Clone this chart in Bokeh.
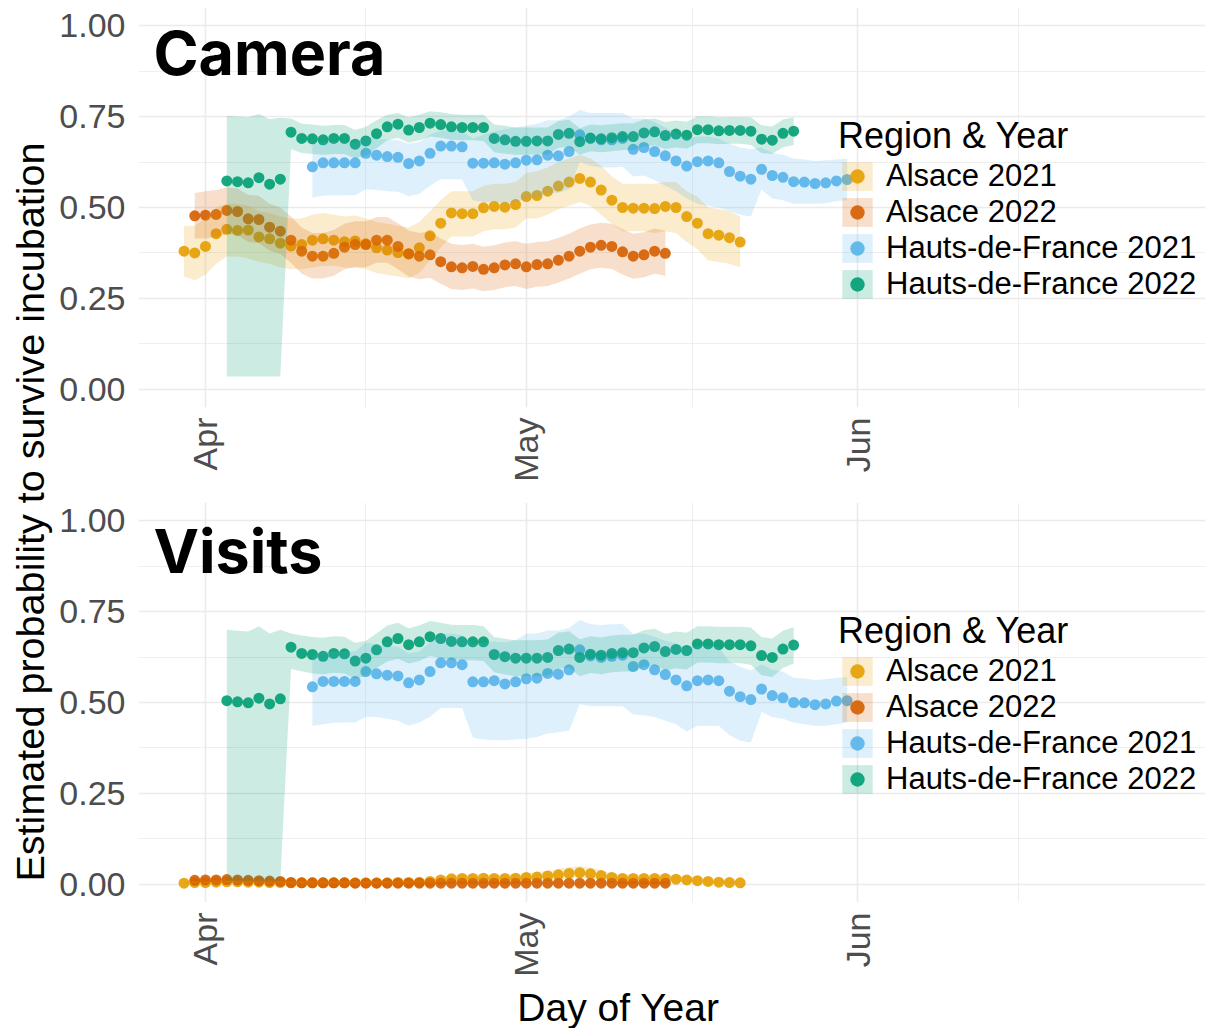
import math
import numpy as np
from bokeh.plotting import figure
from bokeh.models import Range1d, FixedTicker, Label, Legend, LegendItem, PrintfTickFormatter
from bokeh.layouts import row, column
from bokeh.embed import file_html
from bokeh.resources import INLINE

# ---------------- data ----------------
SERIES = ["Alsace 2021", "Alsace 2022", "Hauts-de-France 2021", "Hauts-de-France 2022"]
COLORS = ["#E69F00", "#D55E00", "#56B4E9", "#009E73"]
START_DOY = [89, 90, 101, 93]          # day of year of the first daily estimate (Apr 1 = 91)

MONTH_TICKS = [91, 121, 152]
MONTH_LABELS = ["Apr", "May", "Jun"]
MONTH_MINOR = [106, 136.5, 167]
Y_TICKS = [0, 0.25, 0.5, 0.75, 1.0]
Y_MINOR = [0.125, 0.375, 0.625, 0.875]

# Camera panel
CAM_A21 = [0.380, 0.375, 0.393, 0.428, 0.440, 0.437, 0.438, 0.419, 0.414, 0.402,
           0.394, 0.398, 0.410, 0.414, 0.410, 0.406, 0.408, 0.400, 0.389, 0.383,
           0.376, 0.372, 0.389, 0.422, 0.457, 0.485, 0.483, 0.483, 0.499, 0.503,
           0.501, 0.508, 0.530, 0.533, 0.545, 0.559, 0.570, 0.580, 0.570, 0.548,
           0.520, 0.500, 0.498, 0.498, 0.497, 0.503, 0.500, 0.475, 0.457, 0.428,
           0.424, 0.417, 0.405]
CAM_A21_LO = [0.310, 0.300, 0.315, 0.345, 0.365, 0.365, 0.360, 0.350, 0.345, 0.335,
              0.330, 0.330, 0.335, 0.340, 0.340, 0.335, 0.335, 0.330, 0.320, 0.315,
              0.310, 0.305, 0.320, 0.355, 0.390, 0.420, 0.420, 0.420, 0.435, 0.440,
              0.440, 0.445, 0.470, 0.470, 0.480, 0.495, 0.505, 0.515, 0.505, 0.480,
              0.455, 0.435, 0.435, 0.435, 0.430, 0.435, 0.430, 0.405, 0.385, 0.355,
              0.350, 0.345, 0.335]
CAM_A21_HI = [0.450, 0.450, 0.470, 0.500, 0.510, 0.510, 0.505, 0.490, 0.485, 0.475,
              0.470, 0.470, 0.480, 0.485, 0.480, 0.475, 0.478, 0.470, 0.460, 0.455,
              0.450, 0.445, 0.460, 0.490, 0.520, 0.545, 0.545, 0.545, 0.560, 0.565,
              0.565, 0.570, 0.595, 0.600, 0.610, 0.625, 0.635, 0.645, 0.635, 0.615,
              0.585, 0.565, 0.565, 0.565, 0.565, 0.570, 0.570, 0.545, 0.530, 0.500,
              0.495, 0.490, 0.475]

CAM_A22 = [0.477, 0.479, 0.481, 0.492, 0.489, 0.469, 0.467, 0.446, 0.435, 0.410,
           0.380, 0.366, 0.366, 0.374, 0.391, 0.398, 0.398, 0.410, 0.410, 0.393,
           0.373, 0.366, 0.370, 0.351, 0.337, 0.334, 0.338, 0.330, 0.334, 0.342,
           0.345, 0.337, 0.343, 0.345, 0.355, 0.366, 0.380, 0.391, 0.396, 0.393,
           0.378, 0.366, 0.370, 0.380, 0.374]
CAM_A22_LO = [0.415, 0.415, 0.418, 0.428, 0.425, 0.405, 0.402, 0.382, 0.372, 0.348,
              0.318, 0.305, 0.305, 0.312, 0.330, 0.336, 0.336, 0.348, 0.348, 0.330,
              0.310, 0.303, 0.307, 0.290, 0.276, 0.273, 0.277, 0.270, 0.273, 0.281,
              0.284, 0.276, 0.282, 0.284, 0.294, 0.305, 0.318, 0.330, 0.334, 0.331,
              0.316, 0.304, 0.308, 0.318, 0.312]
CAM_A22_HI = [0.540, 0.545, 0.548, 0.555, 0.552, 0.535, 0.532, 0.510, 0.500, 0.475,
              0.445, 0.430, 0.430, 0.438, 0.455, 0.462, 0.462, 0.474, 0.474, 0.457,
              0.437, 0.430, 0.434, 0.415, 0.400, 0.397, 0.400, 0.392, 0.396, 0.404,
              0.407, 0.400, 0.405, 0.407, 0.417, 0.428, 0.442, 0.453, 0.458, 0.455,
              0.440, 0.428, 0.432, 0.442, 0.437]

CAM_H21 = [0.612, 0.623, 0.623, 0.623, 0.623, 0.649, 0.644, 0.640, 0.638, 0.621,
           0.628, 0.649, 0.669, 0.669, 0.667, 0.622, 0.622, 0.623, 0.619, 0.623,
           0.630, 0.631, 0.644, 0.642, 0.654, 0.700, 0.690, 0.686, 0.686, 0.690,
           0.660, 0.665, 0.654, 0.642, 0.628, 0.614, 0.626, 0.628, 0.623, 0.599,
           0.586, 0.578, 0.605, 0.588, 0.583, 0.571, 0.570, 0.566, 0.568, 0.573,
           0.577]
CAM_H21_LO = [0.527, 0.533, 0.533, 0.534, 0.534, 0.550, 0.548, 0.545, 0.543, 0.531,
              0.538, 0.560, 0.578, 0.578, 0.577, 0.520, 0.515, 0.515, 0.512, 0.515,
              0.525, 0.528, 0.540, 0.540, 0.550, 0.625, 0.615, 0.610, 0.610, 0.612,
              0.585, 0.588, 0.575, 0.560, 0.545, 0.525, 0.510, 0.505, 0.500, 0.490,
              0.480, 0.475, 0.550, 0.525, 0.520, 0.510, 0.510, 0.510, 0.512, 0.518,
              0.520]
CAM_H21_HI = [0.674, 0.680, 0.680, 0.680, 0.680, 0.695, 0.690, 0.687, 0.685, 0.675,
              0.680, 0.700, 0.712, 0.712, 0.710, 0.690, 0.700, 0.710, 0.715, 0.720,
              0.725, 0.730, 0.740, 0.740, 0.750, 0.768, 0.760, 0.760, 0.760, 0.760,
              0.745, 0.745, 0.735, 0.720, 0.705, 0.690, 0.695, 0.695, 0.690, 0.675,
              0.665, 0.660, 0.665, 0.650, 0.645, 0.635, 0.632, 0.628, 0.630, 0.632,
              0.635]

CAM_H22 = [0.573, 0.571, 0.568, 0.582, 0.564, 0.578, 0.707, 0.690, 0.689, 0.686,
           0.690, 0.690, 0.674, 0.683, 0.703, 0.722, 0.729, 0.713, 0.720, 0.732,
           0.728, 0.722, 0.720, 0.720, 0.720, 0.690, 0.686, 0.682, 0.682, 0.683,
           0.683, 0.701, 0.704, 0.681, 0.691, 0.689, 0.692, 0.695, 0.695, 0.705,
           0.708, 0.698, 0.702, 0.699, 0.714, 0.714, 0.711, 0.712, 0.712, 0.710,
           0.688, 0.685, 0.704, 0.710]
CAM_H22_LO = [0.035, 0.035, 0.035, 0.035, 0.035, 0.035, 0.660, 0.650, 0.647, 0.645,
              0.647, 0.647, 0.635, 0.642, 0.663, 0.685, 0.692, 0.678, 0.685, 0.695,
              0.692, 0.686, 0.685, 0.685, 0.683, 0.652, 0.648, 0.645, 0.645, 0.646,
              0.646, 0.664, 0.667, 0.645, 0.655, 0.652, 0.655, 0.658, 0.658, 0.668,
              0.671, 0.661, 0.665, 0.662, 0.677, 0.677, 0.674, 0.675, 0.675, 0.672,
              0.650, 0.647, 0.666, 0.672]
CAM_H22_HI = [0.752, 0.750, 0.748, 0.757, 0.743, 0.747, 0.745, 0.730, 0.728, 0.725,
              0.727, 0.727, 0.713, 0.722, 0.740, 0.755, 0.760, 0.748, 0.755, 0.765,
              0.762, 0.757, 0.755, 0.755, 0.755, 0.728, 0.725, 0.720, 0.720, 0.720,
              0.720, 0.738, 0.741, 0.718, 0.728, 0.726, 0.729, 0.732, 0.732, 0.742,
              0.745, 0.735, 0.739, 0.736, 0.751, 0.751, 0.748, 0.749, 0.749, 0.748,
              0.726, 0.723, 0.742, 0.748]

# Visits panel
VIS_A21 = [0.003, 0.005, 0.005, 0.006, 0.007, 0.007, 0.006, 0.006, 0.005, 0.005,
           0.004, 0.004, 0.004, 0.004, 0.004, 0.004, 0.004, 0.004, 0.004, 0.004,
           0.005, 0.005, 0.006, 0.008, 0.012, 0.015, 0.016, 0.016, 0.017, 0.016,
           0.016, 0.017, 0.019, 0.020, 0.023, 0.026, 0.030, 0.032, 0.029, 0.024,
           0.019, 0.016, 0.016, 0.016, 0.016, 0.016, 0.014, 0.012, 0.010, 0.008,
           0.006, 0.005, 0.004]
VIS_A21_LO = [0.001, 0.002, 0.002, 0.002, 0.003, 0.003, 0.002, 0.002, 0.002, 0.002,
              0.001, 0.001, 0.001, 0.001, 0.001, 0.001, 0.001, 0.001, 0.001, 0.001,
              0.002, 0.002, 0.002, 0.003, 0.005, 0.007, 0.008, 0.008, 0.008, 0.008,
              0.008, 0.008, 0.009, 0.010, 0.011, 0.013, 0.015, 0.017, 0.015, 0.012,
              0.009, 0.008, 0.008, 0.008, 0.008, 0.008, 0.007, 0.006, 0.004, 0.003,
              0.002, 0.002, 0.001]
VIS_A21_HI = [0.008, 0.010, 0.010, 0.011, 0.012, 0.012, 0.011, 0.011, 0.010, 0.010,
              0.009, 0.009, 0.009, 0.009, 0.009, 0.009, 0.009, 0.009, 0.009, 0.009,
              0.010, 0.010, 0.011, 0.015, 0.021, 0.025, 0.027, 0.027, 0.028, 0.027,
              0.027, 0.028, 0.031, 0.033, 0.037, 0.042, 0.047, 0.050, 0.046, 0.039,
              0.031, 0.027, 0.027, 0.027, 0.027, 0.027, 0.024, 0.021, 0.018, 0.015,
              0.012, 0.010, 0.008]

VIS_A22 = [0.011, 0.012, 0.012, 0.013, 0.012, 0.011, 0.010, 0.009, 0.008, 0.005,
           0.004, 0.004, 0.004, 0.004, 0.004, 0.003, 0.003, 0.003, 0.003, 0.003,
           0.003, 0.003, 0.003, 0.003, 0.003, 0.003, 0.003, 0.003, 0.003, 0.003,
           0.003, 0.003, 0.003, 0.003, 0.003, 0.003, 0.003, 0.003, 0.003, 0.003,
           0.003, 0.003, 0.003, 0.003, 0.003]
VIS_A22_LO = [0.007, 0.008, 0.008, 0.009, 0.008, 0.007, 0.006, 0.005, 0.004, 0.002,
              0.001, 0.001, 0.001, 0.001, 0.001, 0.001, 0.001, 0.001, 0.001, 0.001,
              0.001, 0.001, 0.001, 0.001, 0.001, 0.001, 0.001, 0.001, 0.001, 0.001,
              0.001, 0.001, 0.001, 0.001, 0.001, 0.001, 0.001, 0.001, 0.001, 0.001,
              0.001, 0.001, 0.001, 0.001, 0.001]
VIS_A22_HI = [0.016, 0.017, 0.017, 0.018, 0.017, 0.016, 0.015, 0.014, 0.013, 0.009,
              0.007, 0.007, 0.007, 0.007, 0.007, 0.007, 0.007, 0.007, 0.007, 0.007,
              0.007, 0.007, 0.007, 0.007, 0.007, 0.007, 0.007, 0.007, 0.007, 0.007,
              0.007, 0.007, 0.007, 0.007, 0.007, 0.007, 0.007, 0.007, 0.007, 0.007,
              0.007, 0.007, 0.007, 0.007, 0.007]

VIS_H21 = [0.543, 0.558, 0.558, 0.558, 0.558, 0.585, 0.579, 0.575, 0.573, 0.554,
           0.562, 0.585, 0.609, 0.609, 0.604, 0.557, 0.557, 0.560, 0.551, 0.557,
           0.565, 0.567, 0.580, 0.578, 0.590, 0.645, 0.628, 0.624, 0.627, 0.630,
           0.599, 0.604, 0.590, 0.577, 0.562, 0.546, 0.560, 0.562, 0.560, 0.531,
           0.516, 0.508, 0.537, 0.519, 0.513, 0.500, 0.499, 0.494, 0.496, 0.504,
           0.505]
VIS_H21_LO = [0.436, 0.440, 0.444, 0.445, 0.445, 0.461, 0.460, 0.455, 0.450, 0.436,
              0.445, 0.461, 0.485, 0.485, 0.485, 0.404, 0.398, 0.396, 0.396, 0.398,
              0.400, 0.405, 0.415, 0.418, 0.422, 0.496, 0.490, 0.490, 0.490, 0.490,
              0.467, 0.465, 0.460, 0.450, 0.440, 0.420, 0.436, 0.436, 0.436, 0.410,
              0.395, 0.390, 0.474, 0.460, 0.455, 0.445, 0.440, 0.436, 0.436, 0.440,
              0.445]
VIS_H21_HI = [0.630, 0.640, 0.640, 0.640, 0.640, 0.665, 0.660, 0.655, 0.653, 0.635,
              0.640, 0.665, 0.690, 0.690, 0.685, 0.660, 0.665, 0.668, 0.665, 0.672,
              0.689, 0.690, 0.698, 0.698, 0.705, 0.727, 0.715, 0.713, 0.715, 0.716,
              0.689, 0.690, 0.680, 0.670, 0.662, 0.652, 0.655, 0.655, 0.652, 0.612,
              0.598, 0.588, 0.605, 0.590, 0.585, 0.568, 0.566, 0.562, 0.564, 0.568,
              0.570]

VIS_H22 = [0.505, 0.502, 0.499, 0.512, 0.496, 0.510, 0.652, 0.635, 0.632, 0.627,
           0.635, 0.634, 0.614, 0.622, 0.645, 0.667, 0.676, 0.659, 0.667, 0.681,
           0.676, 0.668, 0.667, 0.667, 0.667, 0.632, 0.626, 0.622, 0.622, 0.622,
           0.624, 0.643, 0.647, 0.624, 0.633, 0.630, 0.635, 0.637, 0.637, 0.650,
           0.654, 0.640, 0.646, 0.643, 0.661, 0.661, 0.659, 0.659, 0.659, 0.656,
           0.629, 0.624, 0.647, 0.658]
VIS_H22_LO = [0.010, 0.010, 0.010, 0.010, 0.010, 0.010, 0.592, 0.586, 0.580, 0.578,
              0.582, 0.580, 0.565, 0.572, 0.595, 0.613, 0.620, 0.607, 0.614, 0.628,
              0.622, 0.617, 0.616, 0.616, 0.614, 0.583, 0.577, 0.572, 0.572, 0.572,
              0.574, 0.592, 0.596, 0.572, 0.581, 0.578, 0.583, 0.585, 0.585, 0.598,
              0.602, 0.588, 0.594, 0.591, 0.610, 0.610, 0.608, 0.608, 0.608, 0.604,
              0.575, 0.570, 0.595, 0.607]
VIS_H22_HI = [0.700, 0.697, 0.695, 0.710, 0.690, 0.700, 0.690, 0.684, 0.680, 0.678,
              0.682, 0.681, 0.664, 0.670, 0.690, 0.712, 0.719, 0.704, 0.712, 0.724,
              0.719, 0.714, 0.713, 0.713, 0.710, 0.680, 0.675, 0.671, 0.671, 0.671,
              0.673, 0.692, 0.696, 0.674, 0.682, 0.679, 0.684, 0.686, 0.686, 0.699,
              0.703, 0.689, 0.695, 0.692, 0.710, 0.710, 0.708, 0.708, 0.708, 0.706,
              0.680, 0.676, 0.697, 0.707]

TICK_FONT = "Liberation Sans"
PANEL_W = 1153


def make_panel(title, vals, los, his, height, b_top, b_bottom, title_sy):
    p = figure(width=PANEL_W, height=height,
               x_range=Range1d(84.74, 184.51), y_range=Range1d(-0.05, 1.05),
               output_backend="svg", toolbar_location=None,
               min_border_left=81, min_border_right=4,
               min_border_top=b_top, min_border_bottom=b_bottom)
    p.outline_line_color = None
    p.border_fill_color = "white"
    p.background_fill_color = "white"
    for ax in (p.xaxis[0], p.yaxis[0]):
        ax.axis_line_color = None
        ax.major_tick_line_color = None
        ax.minor_tick_line_color = None
        ax.major_label_text_font = TICK_FONT
        ax.major_label_text_font_size = "34px"
        ax.major_label_text_color = "#4D4D4D"
    p.xaxis.major_label_standoff = 4
    p.yaxis.major_label_standoff = 7
    p.xaxis.ticker = FixedTicker(ticks=MONTH_TICKS, minor_ticks=MONTH_MINOR)
    ov = {}
    for t, l in zip(MONTH_TICKS, MONTH_LABELS):
        ov[t] = l
        ov[str(t)] = l
    p.xaxis.major_label_overrides = ov
    p.xaxis.major_label_orientation = math.pi / 2
    p.yaxis.ticker = FixedTicker(ticks=Y_TICKS, minor_ticks=Y_MINOR)
    p.yaxis.formatter = PrintfTickFormatter(format="%.2f")
    for g in (p.xgrid[0], p.ygrid[0]):
        g.grid_line_color = "#EBEBEB"
        g.grid_line_width = 1.6
        g.minor_grid_line_color = "#EBEBEB"
        g.minor_grid_line_width = 0.8

    pts, ribs = [], []
    for i in range(4):
        x = START_DOY[i] + np.arange(len(vals[i]))
        pts.append(p.scatter(x, vals[i], size=11, fill_color=COLORS[i],
                             line_color=None, fill_alpha=0.9))
    for i in range(4):
        x = START_DOY[i] + np.arange(len(vals[i]))
        ribs.append(p.varea(x=x, y1=los[i], y2=his[i], fill_color=COLORS[i], fill_alpha=0.2))

    legend = Legend(items=[LegendItem(label=SERIES[i], renderers=[ribs[i], pts[i]]) for i in range(4)],
                    location=(700, 105), title="Region & Year",
                    title_text_font=TICK_FONT, title_text_font_size="36px",
                    title_text_font_style="normal", title_text_color="black",
                    title_standoff=1,
                    label_text_font=TICK_FONT, label_text_font_size="31px",
                    label_text_color="black", label_standoff=10,
                    glyph_width=38, glyph_height=36, spacing=0,
                    padding=0, margin=0, border_line_color=None,
                    background_fill_alpha=0)
    p.add_layout(legend)

    p.add_layout(Label(x=15, y=title_sy, x_units="screen", y_units="screen", text=title,
                       text_font="Inter", text_font_size="61px", text_font_style="bold",
                       text_color="black", text_align="left", text_baseline="middle"))
    return p


top = make_panel("Camera",
                 [CAM_A21, CAM_A22, CAM_H21, CAM_H22],
                 [CAM_A21_LO, CAM_A22_LO, CAM_H21_LO, CAM_H22_LO],
                 [CAM_A21_HI, CAM_A22_HI, CAM_H21_HI, CAM_H22_HI],
                 502, 7, 95, 355)
bottom = make_panel("Visits",
                    [VIS_A21, VIS_A22, VIS_H21, VIS_H22],
                    [VIS_A21_LO, VIS_A22_LO, VIS_H21_LO, VIS_H22_LO],
                    [VIS_A21_HI, VIS_A22_HI, VIS_H21_HI, VIS_H22_HI],
                    478, 0, 78, 352)


def text_strip(width, height):
    f = figure(width=width, height=height, x_range=Range1d(0, 1), y_range=Range1d(0, 1),
               output_backend="svg", toolbar_location=None,
               x_axis_location=None, y_axis_location=None, min_border=0)
    f.grid.visible = False
    f.outline_line_color = None
    return f


xlab = text_strip(PANEL_W, 48)
xlab.add_layout(Label(x=480, y=21, x_units="screen", y_units="screen", text="Day of Year",
                      text_font=TICK_FONT, text_font_size="39px", text_color="black",
                      text_align="center", text_baseline="middle"))

ylab = text_strip(56, 1028)
ylab.add_layout(Label(x=29, y=522, x_units="screen", y_units="screen",
                      text="Estimated probability  to survive incubation",
                      angle=math.pi / 2, text_align="center", text_baseline="middle",
                      text_font=TICK_FONT, text_font_size="39.6px", text_color="black"))

layout = row(ylab, column(top, bottom, xlab))
open("out.html", "w").write(file_html(layout, INLINE))
